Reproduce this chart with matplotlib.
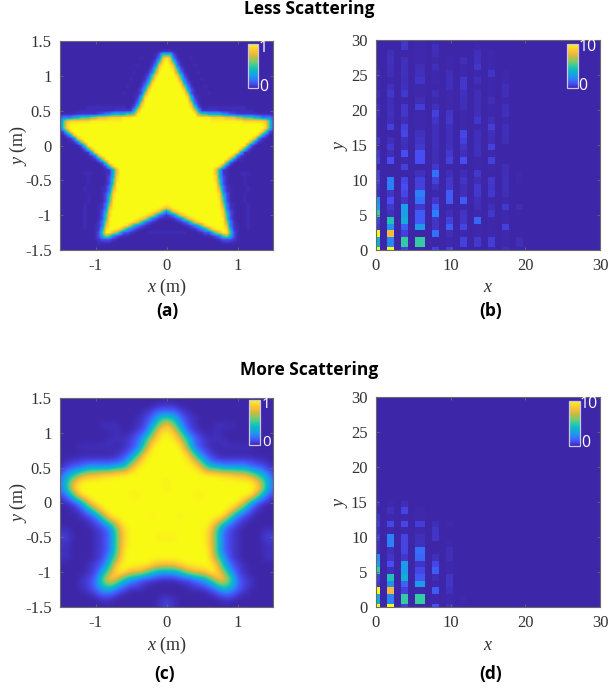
import numpy as np
import matplotlib
matplotlib.use("Agg")
import matplotlib.pyplot as plt
from matplotlib.colors import LinearSegmentedColormap

plt.rcParams['font.family'] = ['Liberation Serif', 'DejaVu Sans']
plt.rcParams['mathtext.fontset'] = 'custom'
plt.rcParams['mathtext.it'] = 'Liberation Serif:italic'
plt.rcParams['mathtext.rm'] = 'Liberation Serif'

W, H = 609, 688

# parula-like colour stops
PARULA = [(0.242, 0.150, 0.660), (0.280, 0.300, 0.960), (0.170, 0.500, 0.970),
          (0.100, 0.630, 0.900), (0.040, 0.730, 0.770), (0.200, 0.790, 0.640),
          (0.470, 0.800, 0.430), (0.750, 0.740, 0.250), (0.970, 0.730, 0.240),
          (0.990, 0.830, 0.170), (0.976, 0.984, 0.081)]

# intensity codes
LEVELS_A = {'.': 0.0, '-': 0.02, '1': 0.04, '2': 0.1, '3': 0.2, '4': 0.35, '5': 0.5,
            '6': 0.65, '7': 0.8, '8': 0.9, '9': 0.97, 'y': 1.0}
LEVELS_C = {'.': 0.0, '-': 0.03, '+': 0.07, '1': 0.07, '2': 0.16, '3': 0.3, '4': 0.43,
            '5': 0.55, '6': 0.66, '7': 0.8, '8': 0.91, '9': 0.98, 'w': 0.965, 'y': 1.0}

# Less scattering star, right half, y from 1.5 down to -1.5 in 0.05 steps
star_a = [
    "."*31, "."*31, "."*31,
    "11-"+"."*28,
    "552-"+"."*27,
    "9731...-"+"."*23,
    "y852-"+"."*26,
    "y9731...-"+"."*22,
    "yy852-"+"."*25,
    "yy9631...-"+"."*21,
    "yyy852-"+"."*24,
    "yyy9631...-"+"."*20,
    "yyyy842-"+"."*23,
    "yyyy9631...-"+"."*19,
    "yyyyy842-"+"."*22,
    "yyyyy962-...-"+"."*18,
    "yyyyyy841-"+"."*21,
    "yyyyyy952-"+"."*21,
    "yyyyyyy731"+"."*21,
    "yyyyyyy852-."+"-"*11+"."*8,
    "y"*8+"74"+"11111"+"-------"+"---"+"."*6,
    "y"*9+"6"+"55"+"4444"+"33"+"22"+"111111"+"---"+"-.",
    "y"*10+"999"+"8888"+"777"+"66"+"555"+"44"+"333"+"2",
    "y"*13+"9"*9+"8"*6+"752",
    "y"*27+"9852",
    "y"*28+"852",
    "y"*27+"852-",
    "y"*26+"842-.",
    "y"*24+"9731-..",
    "y"*23+"9631-...",
    "y"*22+"952-"+"."*5,
    "y"*21+"852-"+"."*6,
    "y"*20+"841-"+"."*7,
    "y"*18+"9731-"+"."*8,
    "y"*17+"9631-"+"."*8,
    "y"*16+"952-"+"."*11,
    "y"*15+"852-"+"."*12,
    "y"*14+"741-"+"."*13,
    "y"*14+"741-"+"."*3+"---"+"."*7,
    "y"*14+"842-"+"."*4+"-"+"."*8,
    "y"*14+"852-"+"."*4+"-"+"."*8,
    "y"*14+"952-"+"."*4+"-"+"."*8,
    "y"*14+"9631-"+"."*4+"-"+"."*7,
    "y"*14+"9731-"+"."*4+"-"+"."*7,
    "y"*15+"842-"+"."*3+"-"+"."*8,
    "y"*15+"852-"+"."*3+"-"+"."*8,
    "y"*15+"952-"+"."*3+"-"+"."*8,
    "9"+"y"*14+"9631-"+"."*3+"-"+"."*7,
    "789"+"y"*12+"9731-"+"."*3+"-"+"."*7,
    "35789"+"y"*11+"842-"+"."*3+"-"+"."*7,
    "1235789"+"y"*9+"852-"+"."*3+"-"+"."*7,
    "--1235789"+"y"*7+"952-"+"."*3+"-"+"."*7,
    "...-1235789"+"y"*5+"9631"+"."*3+"-"+"."*7,
    "."*5+"-1234689yyy"+"9731-"+"."*2+"-"+"."*7,
    "."*7+"-1234689yy841-"+"."*2+"-"+"."*7,
    "-"*6+"..."+"-1224679952-"+"."*10,
    "."*11+"--1235642-"+"."*10,
    "."*14+"-12221-"+"."*10,
    "."*16+"----"+"."*11,
    "."*31, "."*31,
]

# More scattering star, right half, y from 1.5 down to -1.5 in 0.1 steps
star_c = [
    "................",
    "--..............",
    "221-............",
    "5421-...........",
    "8631-..---......",
    "98521-.-........",
    "y97421---.......",
    "yy9521-.-----...",
    "yyy8421-........",
    "yyy9742111111--.",
    "yyyy97443333221-",
    "yyyyyy9988776431",
    "wyyyyyyyyyyy9742",
    "wyyyyyyyyyyyy842",
    "yyyywwyyyyyy9521",
    "yyyyyyyyyyy731-.",
    "yyyyyyyyy9631-..",
    "yywyyyyy9521-...",
    "yyyyyyy7421-....",
    "yyyyyy8521-...--",
    "wwyyyy8521-...++",
    "yyyyyy8521-...--",
    "yyyyyy9521-...--",
    "yyyyyy9631-...--",
    "77899yy8421-....",
    "33467799631-....",
    "--1123478521-...",
    "...-11235421-...",
    "......-1221-....",
    "1-......--......",
    "+-..............",
]

# Cell edges of the mode maps
col_edges = [0, 0.47, 1.43, 2.37, 3.30, 4.28, 5.18, 6.56, 7.45, 8.43, 9.37,
             10.3, 11.24, 12.2, 13.13, 14.06, 15.0, 15.94, 16.87, 17.81,
             18.75, 19.69, 30]
row_edges = [0, 0.43, 1.86, 2.81, 3.76, 4.71, 5.67, 6.62, 7.57, 8.52, 9.48,
             10.43, 11.38, 12.33, 13.29, 14.24, 15.19, 16.14, 17.1, 18.05, 19.0,
             19.95, 20.9, 21.86, 22.81, 23.76, 24.71, 25.67, 26.62, 27.57,
             28.52, 29.48, 30]

# Less scattering mode powers, one list per column, bottom row first
b_col0 = [10, 3.5, 10, .5, .7, 5, 3, 2.5, .3, .4, .7, .7, 0, .7, .5, .1, .45, .1, .1, .1, .2, .3, .1, .25, .05, .1, .2, 0, 0, 0, 0, 0]
b_col2 = [10, 2.2, 8, 2.5, 4.5, .3, .5, 1, .4, 2, 2, 0, 0, 1, .2, .5, .25, 0, .7, .2, .3, .25, .2, .45, .3, .1, .2, .25, .3, .25, 0, 0]
b_col4 = [.7, 5, .7, 1.3, 3.5, 3, 3, .4, .85, 1, .85, 0, .7, .1, 1, .2, .3, .85, .7, .2, .45, .45, .05, .5, .3, .25, .3, .3, .3, 0, .45, .45]
b_col6 = [.1, 5, 0, 2.8, 1.3, 1.3, .5, 1.7, 2, .7, .7, .3, 0, 1, 1, .5, .4, .3, .1, .05, .05, .6, .2, .05, .05, .4, .3, .2, .05, .05, .1, .1]
b_col8 = [.7, 0, 1.7, .4, .4, 2, 1.3, .5, .05, .3, .7, 1.7, .5, .2, .2, .25, .25, .25, .25, .4, .7, .3, .05, .2, 0, .1, .05, .25, .05, .2, .25, .05]
b_col10 = [.7, .1, .2, 1.3, .7, .2, .1, 1.3, 1.3, .5, .45, .25, 0, .7, .5, .3, .25, .25, .25, .45, .4, .05, .05, .1, .25, .25, .2, .1, .1, 0, 0, 0]
b_col12 = [0, .7, .1, .75, .4, .4, .05, 1.3, .25, .2, .4, .2, 0, 1, .25, .4, .7, .85, .05, .05, .1, .2, .25, .3, .45, .45, .1, .1, .2, 0, 0, 0]
b_col14 = [0, .5, .1, .1, 1.5, .1, .2, .25, .5, .5, .2, .5, .05, .05, .25, .3, .25, .25, .1, .45, .25, .2, .2, .2, .1, .25, .1, .45, .3, .25, .1, 0]
b_col16 = [.1, .6, .1, .05, .1, .45, .2, .05, .5, .4, .45, 0, .05, .7, .05, .7, .2, .25, .6, .2, .05, .05, .2, .1, .1, .05, .4, .1, .05, .05, 0, 0]
b_col18 = [.2, .05, .1, .7, .1, .1, .5, .05, .2, .25, .25, .2, .2, 0, 0, 0, .2, .25, .25, .1, .3, .25, .05, .2, .2, .05, .05, 0, 0, 0, 0, 0]
b_col20 = [.05, .2, 0, 0, 0, 0, .2, 0, 0, 0, .1, .1] + [0]*20

# More scattering mode powers
d_col0 = [10, 3.5, 10, .5, .7, 5, 3, 2.5, .25, .3, .6, .3, .6, .45, .1, .25, .05] + [0]*15
d_col2 = [10, 2.2, 8, 2.5, 4.5, .25, 1, .4, .3, 2, 2, .1, .85, .1, .3, .1] + [0]*16
d_col4 = [.7, 5, .7, 1.4, 3.6, 2.8, 2.8, .45, .75, .75, .75, .05, .85, .1, .75, .2] + [0]*16
d_col6 = [.1, 5, .05, 2.8, 1.2, .85, .4, 1.5, 1.7, .3, .25, .1, .6, .05, .05] + [0]*17
d_col8 = [1, .1, 1.3, .1, .2, 1.3, .85, .25, 0, 0, .4, .4, .2] + [0]*19
d_col10 = [.3, .05, .3, .4, .4, .1, .05, .2, .2, .05, 0, 0, .1] + [0]*19
d_col12 = [0, .1] + [0]*30

parula = LinearSegmentedColormap.from_list("parula", PARULA, N=256)
AXIS_GRAY = '#6a6a6a'
TEXT_GRAY = '#333333'


def px_rect(left, top, right, bottom):
    return [left / W, 1 - bottom / H, (right - left) / W, (bottom - top) / H]


def decode(rows, levels):
    width = len(rows[0])
    half = np.array([[levels[c] for c in r.ljust(width, ".")[:width]] for r in rows])
    return np.hstack([half[:, :0:-1], half])


def style_axes(ax, ticks_x, labels_x, ticks_y, labels_y):
    ax.set_xticks(ticks_x, labels_x)
    ax.set_yticks(ticks_y, labels_y)
    ax.tick_params(direction='in', length=2.5, width=0.6, top=True, right=True,
                   color=AXIS_GRAY, labelcolor=TEXT_GRAY, labelsize=12, pad=6)
    for s in ax.spines.values():
        s.set_color(AXIS_GRAY)
        s.set_linewidth(0.8)


def add_bar(im, rect, top_label, top_xy, bottom_xy, size):
    cax = fig.add_axes(px_rect(*rect))
    cb = fig.colorbar(im, cax=cax)
    cb.set_ticks([])
    cb.outline.set_edgecolor('#c9c6e6')
    cb.outline.set_linewidth(0.9)
    for label, xy in ((top_label, top_xy), ('0', bottom_xy)):
        fig.text(xy[0] / W, 1 - xy[1] / H, label, color='white', fontsize=size,
                 family='Open Sans', ha='center', va='center')


def star_panel(grid, rect, interp, step, bar_rect, top_xy, bottom_xy, size, xlabel_y):
    ax = fig.add_axes(px_rect(*rect))
    im = ax.imshow(grid, cmap=parula, vmin=0, vmax=1, interpolation=interp,
                   extent=[-1.5 - step / 2, 1.5 + step / 2, -1.5 - step / 2, 1.5 + step / 2])
    ax.set_xlim(-1.5, 1.5)
    ax.set_ylim(-1.5, 1.5)
    ax.set_aspect('auto')
    style_axes(ax, [-1, 0, 1], ['-1', '0', '1'],
               [-1.5, -1, -0.5, 0, 0.5, 1, 1.5],
               ['-1.5', '-1', '-0.5', '0', '0.5', '1', '1.5'])
    fig.text((rect[0] + rect[2]) / 2 / W, 1 - xlabel_y / H, r'$\mathit{x}$ (m)',
             fontsize=13, color=TEXT_GRAY, ha='center', va='center')
    fig.text(18 / W, 1 - (rect[1] + rect[3]) / 2 / H, r'$\mathit{y}$ (m)', rotation=90,
             fontsize=13, color=TEXT_GRAY, ha='center', va='center')
    add_bar(im, bar_rect, '1', top_xy, bottom_xy, size)


def mode_panel(cols, rect, bar_rect, top_xy, bottom_xy, xlabel_y):
    ax = fig.add_axes(px_rect(*rect))
    grid = np.zeros((len(row_edges) - 1, len(col_edges) - 1))
    for i, col in enumerate(cols):
        grid[:, 2 * i] = col
    im = ax.pcolormesh(col_edges, row_edges, grid, cmap=parula, vmin=0, vmax=10,
                       shading='flat', linewidth=0, rasterized=True)
    ax.set_xlim(0, 30)
    ax.set_ylim(0, 30)
    style_axes(ax, [0, 10, 20, 30], ['0', '10', '20', '30'],
               [0, 5, 10, 15, 20, 25, 30], ['0', '5', '10', '15', '20', '25', '30'])
    fig.text((rect[0] + rect[2]) / 2 / W, 1 - xlabel_y / H, r'$\mathit{x}$',
             fontsize=13, color=TEXT_GRAY, ha='center', va='center')
    fig.text(342 / W, 1 - (rect[1] + rect[3]) / 2 / H, r'$\mathit{y}$', rotation=90,
             fontsize=13, color=TEXT_GRAY, ha='center', va='center')
    add_bar(im, bar_rect, '10', top_xy, bottom_xy, 11.5)


fig = plt.figure(figsize=(W / 100, H / 100), dpi=100)

star_panel(decode(star_a, LEVELS_A), (60, 41, 273, 250), 'bilinear', 0.05, (248, 44, 258, 88),
           (263, 48), (264, 87), 11.5, 287)
mode_panel([b_col0, b_col2, b_col4, b_col6, b_col8, b_col10, b_col12, b_col14,
            b_col16, b_col18, b_col20], (376, 40, 600, 250), (567, 44, 578, 88),
           (588, 47), (583, 86), 287)
star_panel(decode(star_c, LEVELS_C), (60, 398, 273, 607), 'bicubic', 0.1, (249, 400, 260, 445),
           (266, 404), (267, 443), 11, 645)
mode_panel([d_col0, d_col2, d_col4, d_col6, d_col8, d_col10, d_col12],
           (376, 397, 600, 607), (569, 401, 580, 446), (589, 404), (586, 443), 645)

for label, x, y, size in [('Less Scattering', 309, 9, 12.5), ('More Scattering', 309, 370, 12.5),
                          ('(a)', 167, 311, 12.5), ('(b)', 491, 311, 12.5),
                          ('(c)', 165, 674, 12.5), ('(d)', 491, 674, 12.5)]:
    fig.text(x / W, 1 - y / H, label, family='Open Sans', fontweight='bold', fontsize=size,
             color='black', ha='center', va='center')

fig.savefig('out.png', dpi=100)
